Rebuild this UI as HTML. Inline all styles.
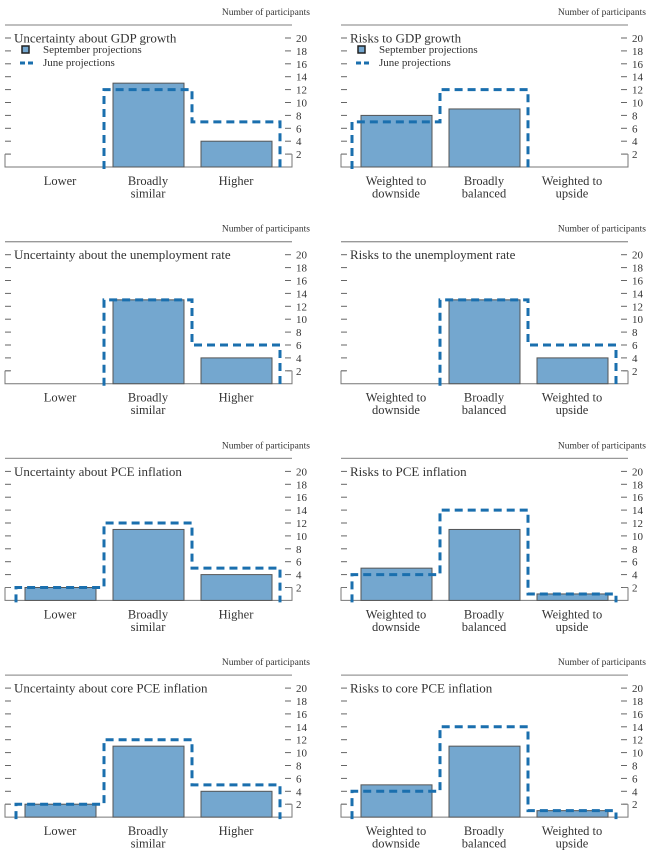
<!DOCTYPE html>
<html><head><meta charset="utf-8">
<style>
body{margin:0;background:#fff;}
svg{display:block;font-family:"Liberation Serif",serif;}
</style></head>
<body>
<svg id="chart" width="647" height="852" viewBox="0 0 647 852" xmlns="http://www.w3.org/2000/svg"></svg>
<script>
const titles = ["Uncertainty about GDP growth","Risks to GDP growth","Uncertainty about the unemployment rate","Risks to the unemployment rate","Uncertainty about PCE inflation","Risks to PCE inflation","Uncertainty about core PCE inflation","Risks to core PCE inflation"];
const uncCats = [["Lower"],["Broadly","similar"],["Higher"]];
const riskCats = [["Weighted to","downside"],["Broadly","balanced"],["Weighted to","upside"]];
const septGdpUnc = [0,13,4];
const juneGdpUnc = [0,12,7];
const septGdpRisk = [8,9,0];
const juneGdpRisk = [7,12,0];
const septUnempUnc = [0,13,4];
const juneUnempUnc = [0,13,6];
const septUnempRisk = [0,13,4];
const juneUnempRisk = [0,13,6];
const septPceUnc = [2,11,4];
const junePceUnc = [2,12,5];
const septPceRisk = [5,11,1];
const junePceRisk = [4,14,1];
const septCoreUnc = [2,11,4];
const juneCoreUnc = [2,12,5];
const septCoreRisk = [5,11,1];
const juneCoreRisk = [4,14,1];
const tickLabels = [2,4,6,8,10,12,14,16,18,20];

const sept = [septGdpUnc,septGdpRisk,septUnempUnc,septUnempRisk,septPceUnc,septPceRisk,septCoreUnc,septCoreRisk];
const june = [juneGdpUnc,juneGdpRisk,juneUnempUnc,juneUnempRisk,junePceUnc,junePceRisk,juneCoreUnc,juneCoreRisk];

const NS="http://www.w3.org/2000/svg";
const svg=document.getElementById('chart');
function mk(tag,attrs,parent,text){const e=document.createElementNS(NS,tag);for(const k in attrs)e.setAttribute(k,attrs[k]);if(text!==undefined)e.textContent=text;parent.appendChild(e);return e;}

for(let p=0;p<8;p++){
  const col=p%2,row=Math.floor(p/2);
  const ox=col*336, oy=row*216.7;
  const g=mk('g',{transform:`translate(${ox},${oy})`},svg);
  
  
  const base=167, unit=6.45;
  const y=v=>base-v*unit;
  const bandX=i=>16+i*88;
  const u=mk('text',{x:310,y:15,'font-size':9.5,'text-anchor':'end',fill:'#333'},g,'Number of participants');
  
  
  const rule=mk('line',{x1:5,x2:292,y1:25,y2:25,stroke:'#999','stroke-width':1.3},g);
  
  
  tickLabels.forEach(t=>{
    mk('line',{x1:5,x2:11,y1:y(t),y2:y(t),stroke:'#666','stroke-width':1},g);
    mk('line',{x1:285,x2:291,y1:y(t),y2:y(t),stroke:'#666','stroke-width':1},g);
    const tl=mk('text',{x:296,y:y(t)+4,'font-size':11,fill:'#333'},g,String(t));
    
    
  });
  mk('path',{d:`M5,${y(2)} V${base} H292 V${y(2)}`,fill:'none',stroke:'#777','stroke-width':1},g);
  mk('line',{x1:5,x2:10,y1:y(2),y2:y(2),stroke:'#777'},g);
  mk('line',{x1:287,x2:292,y1:y(2),y2:y(2),stroke:'#777'},g);
  mk('rect',{x:12,y:30,width:col?190:270,height:15,fill:'#fff'},g);
  const ti=mk('text',{x:14,y:42.5,'font-size':13,fill:'#333'},g,titles[p]);
  
  
  if(p<2){
    mk('rect',{x:12,y:45,width:110,height:26,fill:'#fff'},g);
    const l1=mk('rect',{x:22,y:46,width:7,height:7,fill:'#74a7cf',stroke:'#222','stroke-width':1.5},g);
    
    
    const lt1=mk('text',{x:43,y:53,'font-size':11,fill:'#333'},g,'September projections');
    
    
    const l2=mk('line',{x1:20,x2:36,y1:63,y2:63,stroke:'#1a6fae','stroke-width':3,'stroke-dasharray':'5 3'},g);
    
    
    const lt2=mk('text',{x:43,y:66,'font-size':11,fill:'#333'},g,'June projections');
    
    
  }
  const cats=col?riskCats:uncCats;
  sept[p].forEach((v,i)=>{
    if(v>0){
      const b=mk('rect',{x:bandX(i)+9,y:y(v),width:71,height:v*unit,fill:'#74a7cf',stroke:'#555','stroke-width':1},g);
      
      
    }
    cats[i].forEach((ln,k)=>{
      const c=mk('text',{x:bandX(i)+44,y:185+k*12.5,'font-size':12.5,'text-anchor':'middle',fill:'#333'},g,ln);
      
      
    });
  });
  const jv=june[p];let d='';let prev=0;
  jv.forEach((v,i)=>{
    const x0=bandX(i),x1=bandX(i+1);
    if(v>0){
      if(prev===0)d+=`M${x0},${base+2} `;
      d+=`V${y(v)} H${x1} `;
    } else if(prev>0){
      d+=`V${base+2} `;
    }
    prev=v;
  });
  if(prev>0)d+=`V${base+2}`;
  const jp=mk('path',{d:d,fill:'none',stroke:'#1a6fae','stroke-width':3,'stroke-dasharray':'8 5'},g);
  
  
}
</script>
</body></html>
